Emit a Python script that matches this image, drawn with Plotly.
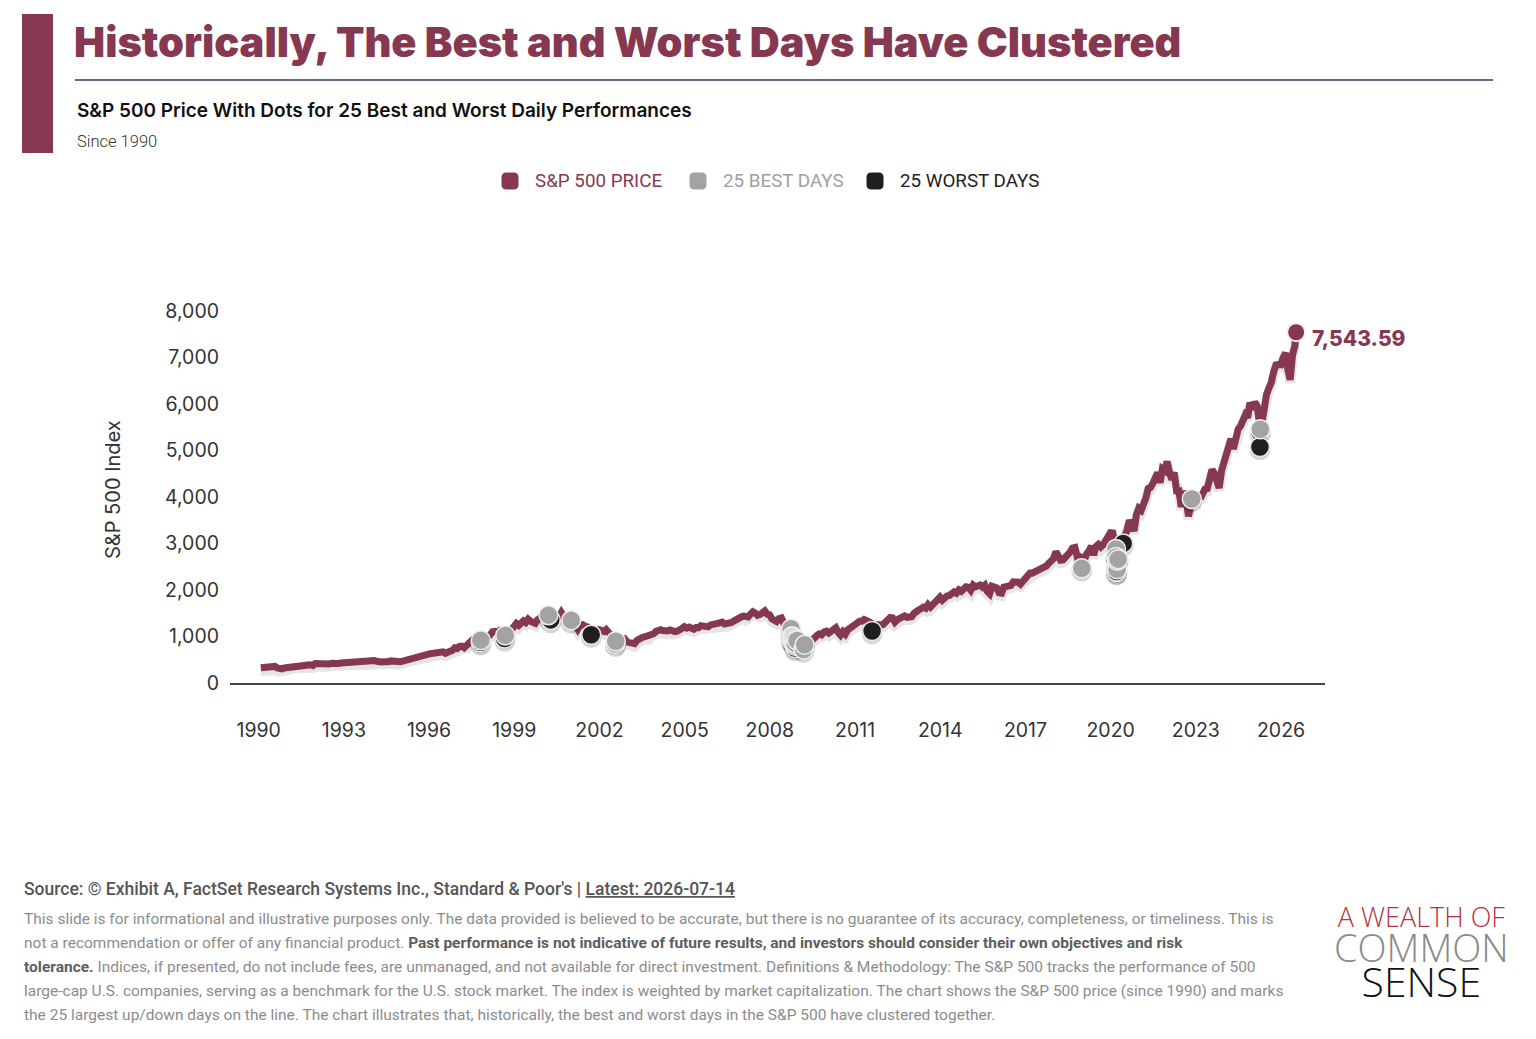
import pandas as pd
import plotly.graph_objects as go

# S&P 500 monthly closes (one row per year)
close_1990s = [
    329, 332, 340, 331, 361, 358, 356, 323, 306, 304, 322, 330,  # 1990
    344, 367, 375, 375, 390, 371, 388, 395, 388, 392, 375, 417,  # 1991
    409, 413, 404, 415, 415, 408, 424, 414, 418, 419, 431, 436,  # 1992
    439, 443, 452, 440, 450, 451, 448, 464, 459, 468, 462, 466,  # 1993
    482, 467, 446, 451, 457, 444, 458, 475, 463, 472, 454, 459,  # 1994
    470, 487, 501, 515, 533, 545, 562, 562, 584, 582, 605, 616,  # 1995
    636, 640, 646, 654, 669, 671, 640, 652, 687, 705, 757, 741,  # 1996
    786, 791, 757, 801, 848, 885, 954, 899, 947, 915, 955, 970,  # 1997
    980, 1049, 1102, 1112, 1091, 1134, 1121, 957, 1017, 1099, 1164, 1229,  # 1998
    1280, 1238, 1286, 1335, 1302, 1373, 1329, 1320, 1283, 1363, 1389, 1469,  # 1999
]
close_2000s = [
    1394, 1366, 1499, 1452, 1421, 1455, 1431, 1518, 1437, 1429, 1315, 1320,  # 2000
    1366, 1240, 1160, 1249, 1256, 1224, 1211, 1134, 1041, 1060, 1139, 1148,  # 2001
    1130, 1107, 1147, 1077, 1067, 990, 912, 916, 815, 886, 936, 880,  # 2002
    856, 841, 848, 917, 964, 975, 990, 1008, 996, 1051, 1058, 1112,  # 2003
    1131, 1145, 1126, 1107, 1121, 1141, 1102, 1104, 1115, 1130, 1174, 1212,  # 2004
    1181, 1204, 1181, 1157, 1192, 1191, 1234, 1220, 1229, 1207, 1249, 1248,  # 2005
    1280, 1281, 1295, 1311, 1270, 1270, 1277, 1304, 1336, 1378, 1401, 1418,  # 2006
    1438, 1407, 1421, 1482, 1531, 1503, 1455, 1474, 1527, 1549, 1481, 1468,  # 2007
    1379, 1331, 1323, 1386, 1400, 1280, 1267, 1283, 1166, 969, 896, 903,  # 2008
    826, 735, 798, 873, 919, 919, 987, 1021, 1057, 1036, 1096, 1115,  # 2009
]
close_2010s = [
    1074, 1104, 1169, 1187, 1089, 1031, 1102, 1049, 1141, 1183, 1181, 1258,  # 2010
    1286, 1327, 1326, 1364, 1345, 1321, 1292, 1219, 1131, 1253, 1247, 1258,  # 2011
    1312, 1366, 1408, 1398, 1310, 1362, 1379, 1407, 1441, 1412, 1416, 1426,  # 2012
    1498, 1515, 1569, 1598, 1631, 1606, 1686, 1633, 1682, 1757, 1806, 1848,  # 2013
    1783, 1859, 1872, 1884, 1924, 1960, 1931, 2003, 1972, 2018, 2068, 2059,  # 2014
    1995, 2105, 2068, 2086, 2107, 2063, 2104, 1972, 1920, 2079, 2080, 2044,  # 2015
    1940, 1932, 2060, 2065, 2097, 2099, 2174, 2171, 2168, 2126, 2199, 2239,  # 2016
    2279, 2364, 2363, 2384, 2412, 2423, 2470, 2472, 2519, 2575, 2648, 2674,  # 2017
    2824, 2714, 2641, 2648, 2705, 2718, 2816, 2902, 2914, 2712, 2760, 2507,  # 2018
    2704, 2784, 2834, 2946, 2752, 2942, 2980, 2926, 2977, 3038, 3141, 3231,  # 2019
]
close_2020s = [
    3226, 2954, 2585, 2912, 3044, 3100, 3271, 3500, 3363, 3270, 3622, 3756,  # 2020
    3714, 3811, 3973, 4181, 4204, 4298, 4395, 4523, 4308, 4605, 4567, 4766,  # 2021
    4516, 4374, 4530, 4132, 4132, 3785, 4130, 3955, 3586, 3872, 4080, 3840,  # 2022
    4077, 3970, 4109, 4169, 4180, 4450, 4589, 4508, 4288, 4194, 4568, 4770,  # 2023
    4846, 5096, 5254, 5036, 5278, 5460, 5522, 5648, 5762, 5705, 6032, 5882,  # 2024
    6041, 5955, 5612, 5569, 5912, 6205, 6339, 6460, 6688, 6840, 6849, 6845,  # 2025
    7000, 7100, 6750, 6520, 7050, 7250,  # 2026
]
latest_date = "2026-07-14"
latest_close = 7543.59

# 25 best and 25 worst daily moves
best_dates = ["1997-10-28", "1998-09-08", "2000-03-16", "2001-01-03", "2002-07-24",
              "2002-07-29", "2008-09-30", "2008-10-13", "2008-10-20", "2008-10-28",
              "2008-11-13", "2008-11-21", "2008-11-24", "2008-12-16", "2009-03-10",
              "2009-03-23", "2018-12-26", "2020-03-10", "2020-03-13", "2020-03-17",
              "2020-03-24", "2020-03-26", "2020-04-06", "2022-11-10", "2025-04-09"]
best_values = [921.85, 1023.46, 1458.47, 1347.56, 843.43,
               898.96, 1166.36, 1003.35, 985.40, 940.51,
               911.29, 800.03, 851.81, 913.18, 719.60,
               822.92, 2467.70, 2882.23, 2711.02, 2529.19,
               2447.33, 2630.07, 2663.68, 3956.37, 5456.90]
worst_dates = ["1997-10-27", "1998-08-31", "2000-04-14", "2001-09-17", "2008-09-29",
               "2008-10-07", "2008-10-09", "2008-10-15", "2008-10-22", "2008-11-05",
               "2008-11-06", "2008-11-12", "2008-11-19", "2008-11-20", "2008-12-01",
               "2009-01-20", "2011-08-08", "2020-03-09", "2020-03-11", "2020-03-12",
               "2020-03-16", "2020-03-18", "2020-06-11", "2025-04-03", "2025-04-04"]
worst_values = [876.99, 957.28, 1356.56, 1038.77, 1106.39,
                996.23, 909.92, 907.84, 896.78, 952.77,
                904.88, 852.30, 806.58, 752.44, 816.21,
                805.22, 1119.46, 2746.56, 2741.38, 2480.64,
                2386.13, 2398.10, 3002.10, 5396.52, 5074.08]

MAROON = "#873851"
GRAY = "#a3a3a3"
BLACK = "#1f1f1f"
FONT = "Roboto"
HEAD = "Inter"

monthly = close_1990s + close_2000s + close_2010s + close_2020s
dates = list(pd.date_range("1990-01-01", periods=len(monthly), freq="MS") + pd.Timedelta(days=27))
line_x = dates + [pd.Timestamp(latest_date)]
line_y = monthly + [latest_close]

# page geometry in reference pixels; the page body adds an 8px offset
OFF = 8
W, H = 1536 - OFF, 1039 - OFF
L, R, T, B = 230, 1325, 311, 683


def px(x):
    return (x - L) / (R - L)


def py(y):
    return (B - y) / (B - T)


fig = go.Figure()

# soft drop shadows
fig.add_trace(go.Scatter(x=line_x, y=[v - 60 for v in line_y], mode="lines",
                         line=dict(color="rgba(0,0,0,0.10)", width=10),
                         hoverinfo="skip", showlegend=False))
fig.add_trace(go.Scatter(x=line_x, y=line_y, mode="lines",
                         line=dict(color=MAROON, width=7), name="S&P 500 PRICE",
                         showlegend=False))
fig.add_trace(go.Scatter(x=worst_dates + best_dates, y=[v - 60 for v in worst_values + best_values],
                         mode="markers", marker=dict(size=21, color="rgba(0,0,0,0.16)"),
                         hoverinfo="skip", showlegend=False))
fig.add_trace(go.Scatter(x=worst_dates, y=worst_values, mode="markers", name="25 WORST DAYS",
                         marker=dict(size=19, color=BLACK, line=dict(color="#e6e6e6", width=1.5)),
                         showlegend=False))
fig.add_trace(go.Scatter(x=best_dates, y=best_values, mode="markers", name="25 BEST DAYS",
                         marker=dict(size=19, color=GRAY, line=dict(color="#eeeeee", width=1.5)),
                         showlegend=False))
fig.add_trace(go.Scatter(x=[latest_date], y=[latest_close], mode="markers",
                         marker=dict(size=18, color=MAROON, line=dict(color="#f2f2f2", width=2)),
                         cliponaxis=False, showlegend=False, hoverinfo="skip"))

shapes = []
annotations = []


def text(x, y, s, size, color, weight=400, anchor="left", family=FONT):
    annotations.append(dict(x=px(x), y=py(y), xref="paper", yref="paper", text=s,
                            showarrow=False, xanchor=anchor, yanchor="middle",
                            font=dict(family=family, size=size, color=color, weight=weight)))


def rounded_square(cx, cy, size, r, color):
    x0, x1 = px(cx - size / 2), px(cx + size / 2)
    y0, y1 = py(cy + size / 2), py(cy - size / 2)
    rx, ry = r / (R - L), r / (B - T)
    path = (f"M {x0 + rx} {y0} L {x1 - rx} {y0} Q {x1} {y0} {x1} {y0 + ry} "
            f"L {x1} {y1 - ry} Q {x1} {y1} {x1 - rx} {y1} L {x0 + rx} {y1} "
            f"Q {x0} {y1} {x0} {y1 - ry} L {x0} {y0 + ry} Q {x0} {y0} {x0 + rx} {y0} Z")
    shapes.append(dict(type="path", path=path, xref="paper", yref="paper",
                       fillcolor=color, line=dict(width=0)))


# latest value label next to the end dot
annotations.append(dict(x=latest_date, y=latest_close, xref="x", yref="y",
                        text=f"{latest_close:,.2f}", showarrow=False,
                        xanchor="left", yanchor="middle", xshift=14, yshift=-6,
                        font=dict(family=HEAD, size=21, color=MAROON, weight=800)))

# header
shapes.append(dict(type="rect", xref="paper", yref="paper", x0=px(22), x1=px(53),
                   y0=py(153), y1=py(14), fillcolor=MAROON, line=dict(width=0)))
shapes.append(dict(type="line", xref="paper", yref="paper", x0=px(75), x1=px(1493),
                   y0=py(80), y1=py(80), line=dict(color="#2f3b52", width=1.5)))
text(72, 42, "Historically, The Best and Worst Days Have Clustered", 41.5, MAROON, 900, family=HEAD)
text(75, 110, "S&P 500 Price With Dots for 25 Best and Worst Daily Performances", 19, "#111111", 600,
     family=HEAD)
text(75, 141, "Since 1990", 16.5, "#333333", 300)

# legend
for cx, tx, label, col, tcol in [(510, 533, "S&P 500 PRICE", MAROON, MAROON),
                                 (698, 721, "25 BEST DAYS", GRAY, "#a0a0a0"),
                                 (875, 898, "25 WORST DAYS", BLACK, "#222222")]:
    rounded_square(cx, 181, 17, 5, col)
    text(tx, 181, label, 18.8, tcol, 400)

# y axis title
annotations.append(dict(x=px(113), y=py(490), xref="paper", yref="paper", text="S&P 500 Index",
                        showarrow=False, textangle=-90, xanchor="center", yanchor="middle",
                        font=dict(family=HEAD, size=20, color="#333333")))

# footer
text(22, 889, "Source: © Exhibit A, FactSet Research Systems Inc., Standard & Poor's | "
     "<u>Latest: 2026-07-14</u>", 17.5, "#555555", 500)
B_ON = "<span style='color:#5e5e5e'><b>"
B_OFF = "</b></span>"
footer_lines = [
    "This slide is for informational and illustrative purposes only. The data provided is believed to be "
    "accurate, but there is no guarantee of its accuracy, completeness, or timeliness. This is",
    "not a recommendation or offer of any financial product. " + B_ON + "Past performance is not indicative "
    "of future results, and investors should consider their own objectives and risk" + B_OFF,
    B_ON + "tolerance." + B_OFF + " Indices, if presented, do not include fees, are unmanaged, and not "
    "available for direct investment. Definitions &amp; Methodology: The S&amp;P 500 tracks the performance of 500",
    "large-cap U.S. companies, serving as a benchmark for the U.S. stock market. The index is weighted by "
    "market capitalization. The chart shows the S&amp;P 500 price (since 1990) and marks",
    "the 25 largest up/down days on the line. The chart illustrates that, historically, the best and worst "
    "days in the S&amp;P 500 have clustered together.",
]
for i, s in enumerate(footer_lines):
    text(22, 919 + 24 * i, s, 15.5, "#8c8c8c", 400)

# logo as one stacked text block
logo = ("<span style='font-size:27px;color:#b5343c'>A WEALTH OF</span><br>"
        "<span style='font-size:38px;color:#8a8a8a'>COMMON</span><br>"
        "<span style='font-size:41px;color:#111111'>SENSE</span>")
text(1421, 953, logo, 27, "#111111", 300, "center", "Open Sans")

fig.update_layout(
    width=W, height=H,
    margin=dict(l=L - OFF, r=W - (R - OFF), t=T - OFF, b=H - (B - OFF)),
    paper_bgcolor="white", plot_bgcolor="white",
    showlegend=False,
    font=dict(family=FONT, color="#333333"),
    shapes=shapes, annotations=annotations,
    xaxis=dict(type="date", range=["1988-12-28", "2027-07-20"], tick0="1990-01-01", dtick="M36",
               tickformat="%Y", showgrid=False, zeroline=False, showline=True,
               linecolor="#444444", linewidth=1.5, ticks="", ticklabelstandoff=29,
               tickfont=dict(family=HEAD, size=19.5, color="#333333")),
    yaxis=dict(range=[0, 8000], tick0=0, dtick=1000, tickformat=",", showgrid=False,
               zeroline=False, showline=False, ticks="", ticklabelstandoff=10,
               tickfont=dict(family=HEAD, size=19.5, color="#333333")),
)

fig.write_html("out.html")
